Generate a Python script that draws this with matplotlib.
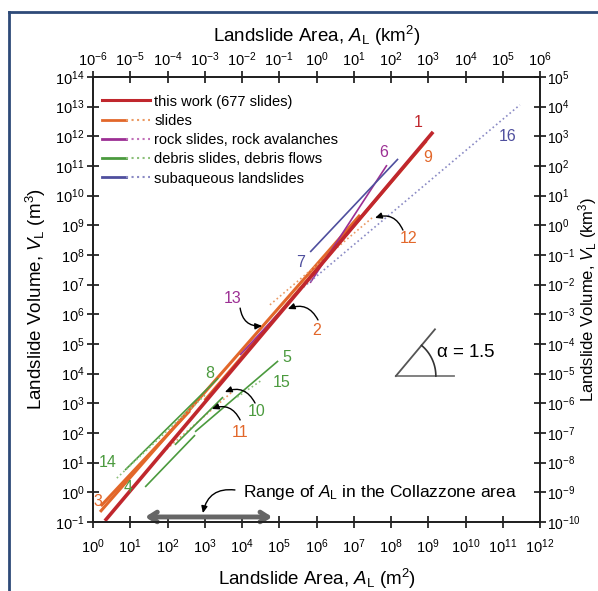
import numpy as np
import matplotlib.pyplot as plt
from matplotlib.lines import Line2D
from matplotlib.legend_handler import HandlerTuple
from matplotlib.ticker import NullLocator

plt.rcParams['font.family'] = ['Liberation Sans', 'DejaVu Sans']
plt.rcParams['mathtext.fontset'] = 'custom'
plt.rcParams['mathtext.rm'] = 'Liberation Sans'
plt.rcParams['mathtext.it'] = 'Liberation Sans:italic'
plt.rcParams['mathtext.default'] = 'regular'

# regression lines, log10 of end points (area in m2, volume in m3)
line_ids = ['1', '2', '3', '9', '11', '12', '6', '13', '7', '16',
            '8', '14', '4', '5', '15', '10']
line_kind = ['this', 'slides', 'slides', 'slides', 'slides', 'slides',
             'rock', 'rock', 'sub', 'sub',
             'debris', 'debris', 'debris', 'debris', 'debris', 'debris']
line_dotted = [False, False, False, False, True, True, False, False, False, True,
               False, True, False, False, True, False]
logA0 = [0.32, 0.19, 0.21, 3.00, 1.80, 4.75, 5.83, 3.95, 5.83, 5.56,
         0.86, 0.64, 1.40, 2.74, 3.87, 2.20]
logV0 = [-0.96, -0.66, -0.46, 3.10, 1.26, 6.32, 7.06, 4.63, 8.10, 6.82,
         0.75, 0.48, 0.18, 2.04, 3.21, 1.60]
logA1 = [9.13, 7.17, 2.60, 8.95, 3.73, 7.49, 7.89, 5.56, 8.19, 11.46,
         3.36, 3.01, 2.74, 4.97, 4.54, 3.49]
logV1 = [12.15, 9.35, 2.75, 11.85, 3.38, 9.25, 11.03, 6.82, 11.24, 13.06,
         3.85, 3.28, 1.93, 4.43, 3.79, 3.21]

# number labels next to the lines
lab_text = ['1', '9', '6', '16', '12', '7', '13', '2', '8', '5', '15', '10', '11', '14', '4', '3']
lab_kind = ['this', 'slides', 'rock', 'sub', 'slides', 'sub', 'rock', 'slides',
            'debris', 'debris', 'debris', 'debris', 'slides', 'debris', 'debris', 'slides']
lab_logA = [8.72, 8.99, 7.81, 11.14, 8.46, 5.56, 3.76, 6.01, 3.14, 5.21, 5.07, 4.38, 3.95, 0.40, 0.94, 0.13]
lab_logV = [12.45, 11.27, 11.44, 11.98, 8.54, 7.76, 6.55, 5.44, 4.02, 4.53, 3.69, 2.74, 2.03, 1.02, 0.15, -0.32]

# curved pointer arrows (tail -> head), log10 units
arr_tail = [(6.04, 5.81), (8.32, 8.84), (3.95, 6.21), (4.35, 3.01), (3.95, 2.44), (3.81, 0.08)]
arr_head = [(5.23, 6.18), (7.57, 9.25), (4.54, 5.61), (3.54, 3.38), (3.19, 2.81), (2.95, -0.70)]

# range of landslide area in the Collazzone area
range_logA = [1.40, 4.81]
range_logV = -0.83

legend_labels = {'this': 'this work (677 slides)', 'slides': 'slides',
                 'rock': 'rock slides, rock avalanches',
                 'debris': 'debris slides, debris flows',
                 'sub': 'subaqueous landslides'}
colors = {'this': '#c0272d', 'slides': '#e2672a', 'rock': '#9c2f94',
          'debris': '#4b9a3e', 'sub': '#4f4f9e'}
light = {'this': '#c0272d', 'slides': '#eb9a63', 'rock': '#c070b8',
         'debris': '#8cc07a', 'sub': '#8a8ac4'}

fig = plt.figure(figsize=(5.98, 5.91), dpi=100)
ax = fig.add_axes([93 / 598, 1 - 522 / 591, 447 / 598, 445 / 591])

for i in range(len(line_ids)):
    k = line_kind[i]
    lw = 2.6 if k == 'this' else (2.2 if k == 'slides' and not line_dotted[i] else 1.2)
    ax.plot(10.0 ** np.array([logA0[i], logA1[i]]), 10.0 ** np.array([logV0[i], logV1[i]]),
            color=light[k] if line_dotted[i] else colors[k],
            ls=':' if line_dotted[i] else '-', lw=lw, solid_capstyle='butt',
            zorder=3 if k == 'this' else 2)

for t, k, a, v in zip(lab_text, lab_kind, lab_logA, lab_logV):
    ax.text(10 ** a, 10 ** v, t, color=colors[k], fontsize=11.5, ha='center', va='center')

for (ta, tv), (ha, hv) in zip(arr_tail, arr_head):
    ax.annotate('', xy=(10 ** ha, 10 ** hv), xytext=(10 ** ta, 10 ** tv),
                arrowprops=dict(arrowstyle='-|>,head_length=0.4,head_width=0.18',
                                connectionstyle='arc3,rad=0.45', color='k', lw=1.0,
                                shrinkA=0, shrinkB=0))

ax.annotate('', xy=(10 ** range_logA[0], 10 ** range_logV),
            xytext=(10 ** range_logA[1], 10 ** range_logV),
            arrowprops=dict(arrowstyle='<->,head_length=0.55,head_width=0.35',
                            color='#666666', lw=3.5, shrinkA=0, shrinkB=0))
ax.text(10 ** 4.03, 10 ** 0.01, 'Range of $\\mathit{A}_\\mathrm{L}$ in the Collazzone area',
        fontsize=12.5, ha='left', va='center')

# slope symbol, alpha = 1.5
vx, vy = 8.13, 3.92
sx, sy = 447 / 12, 445 / 15
ax.plot(10.0 ** np.array([vx, vx + 1.55]), 10.0 ** np.array([vy, vy]), color='#777777', lw=1.3)
ax.plot(10.0 ** np.array([vx, vx + 1.05]), 10.0 ** np.array([vy, vy + 1.5 * 1.05]), color='#555555', lw=1.3)
th = np.radians(np.linspace(0, np.degrees(np.arctan(1.5 * sy / sx)), 40))
ax.plot(10.0 ** (vx + 40 * np.cos(th) / sx), 10.0 ** (vy + 40 * np.sin(th) / sy), color='#333333', lw=1.2)
ax.text(10 ** 9.2, 10 ** 4.73, '$\\alpha$ = 1.5', fontsize=13.5, ha='left', va='center')

ax.set_xscale('log')
ax.set_yscale('log')
ax.set_xlim(1, 1e12)
ax.set_ylim(1e-1, 1e14)
ax.set_xticks(10.0 ** np.arange(0, 13))
ax.set_yticks(10.0 ** np.arange(-1, 15))
ax.xaxis.set_minor_locator(NullLocator())
ax.yaxis.set_minor_locator(NullLocator())
ax.set_xlabel('Landslide Area, $\\mathit{A}_\\mathrm{L}$ (m$^2$)', fontsize=13.5, labelpad=8)
ax.set_ylabel('Landslide Volume, $\\mathit{V}_\\mathrm{L}$ (m$^3$)', fontsize=13.5, labelpad=5)

ax2 = ax.twiny()
ax2.set_xscale('log')
ax2.set_xlim(1e-6, 1e6)
ax2.set_xticks(10.0 ** np.arange(-6, 7))
ax2.xaxis.set_minor_locator(NullLocator())
ax2.set_xlabel('Landslide Area, $\\mathit{A}_\\mathrm{L}$ (km$^2$)', fontsize=13.5, labelpad=6)

ax3 = ax.twinx()
ax3.set_yscale('log')
ax3.set_ylim(1e-10, 1e5)
ax3.set_yticks(10.0 ** np.arange(-10, 6))
ax3.yaxis.set_minor_locator(NullLocator())
fig.text(0.983, 0.493, 'Landslide Volume, $\\mathit{V}_\\mathrm{L}$ (km$^3$)', fontsize=12,
         rotation=90, ha='center', va='center')

for a in (ax, ax2, ax3):
    a.tick_params(which='major', direction='inout', length=8, width=1.1, labelsize=10.5, pad=2)
    for s in a.spines.values():
        s.set_linewidth(1.2)
        s.set_color('#222222')
ax.tick_params(axis='x', pad=7)
ax3.tick_params(axis='y', pad=1, labelsize=10)

handles = []
labels = []
for k in ['this', 'slides', 'rock', 'debris', 'sub']:
    if k == 'this':
        handles.append(Line2D([], [], color=colors[k], lw=2.2))
    else:
        handles.append((Line2D([], [], color=colors[k], lw=2.0),
                        Line2D([], [], color=light[k], lw=1.5, ls=':')))
    labels.append(legend_labels[k])
ax.legend(handles, labels, loc='upper left', bbox_to_anchor=(-0.01, 0.99), frameon=False,
          fontsize=10.5, handlelength=3.3, handletextpad=0.3, labelspacing=0.36,
          handler_map={tuple: HandlerTuple(ndivide=2, pad=0)})

# slide frame
fig.add_artist(Line2D([9 / 598, 9 / 598], [0, 1 - 12 / 591], color='#2e4a78', lw=2))
fig.add_artist(Line2D([9 / 598, 1], [1 - 12 / 591, 1 - 12 / 591], color='#2e4a78', lw=2))

fig.savefig('out.png', dpi=100)
